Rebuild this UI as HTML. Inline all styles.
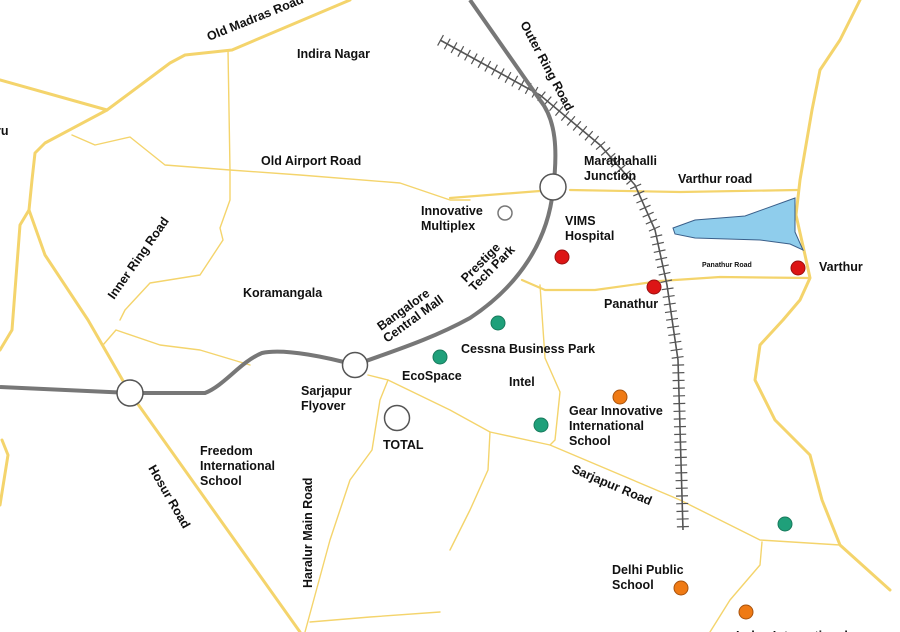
<!DOCTYPE html>
<html><head><meta charset="utf-8"><style>
html,body{margin:0;padding:0;background:#fff}
svg{display:block}
text{font-family:"Liberation Sans",Arial,sans-serif;font-weight:bold;font-size:12.5px;fill:#111}
</style></head><body>
<svg width="900" height="632" viewBox="0 0 900 632" xmlns="http://www.w3.org/2000/svg">
<g fill="none" stroke="#f4d46c" stroke-linejoin="round" stroke-linecap="round">
 <g stroke-width="3">
  <path d="M0,80 L107,110"/>
  <path d="M350,0 L232,50 L185,55 L170,63 L107,110 L45,143 L35,153 L32,180 L29,210"/>
  <path d="M29,210 L20,225 L12,330 L0,350"/>
  <path d="M2,440 L8,455 L0,505"/>
  <path d="M29,210 L45,255 L88,320 L130,393 L300,632"/>
  <path d="M860,0 L840,40 L820,70 L812,110 L800,180 L796,215 L805,255 L810,278 L800,300 L783,320 L760,345 L755,380 L775,420 L810,455 L822,500 L840,545 L890,590"/>
 </g>
 <g stroke-width="2.2">
  <path d="M522,280 L545,290 L595,290 L660,281 L720,277 L810,278"/>
  <path d="M450,198 L540,191 M570,190 L680,192 L797,190"/>
 </g>
 <g stroke-width="1.4">
  <path d="M228,50 L230,170 L230,200 L220,228 L223,240 L200,275 L150,283 L125,310 L120,320"/>
  <path d="M72,135 L95,145 L130,137 L165,165 L230,170 L300,175 L400,183 L450,200 L470,200"/>
  <path d="M116,330 L103,345 M116,330 L160,345 L200,350 L250,365"/>
  <path d="M368,375 L388,380 L450,410 L490,432 L550,445 L680,500 L760,540 L840,545"/>
  <path d="M388,380 L380,400 L372,450 L350,480 L330,540 L305,632"/>
  <path d="M310,622 L370,617 L440,612"/>
  <path d="M490,432 L488,470 L470,510 L450,550"/>
  <path d="M540,285 L545,358 L560,392 L555,440 L550,445"/>
  <path d="M762,542 L760,565 L730,600 L710,632"/>
 </g>
</g>
<path d="M673,228 L695,220 L745,216 L795,198 L795,232 L803,250 L790,244 L760,240 L695,238 L675,234 Z" fill="#8fcdec" stroke="#3a5f8a" stroke-width="1"/>
<path d="M440,40 L540,95 L600,145 L635,185 L655,230 L667,285 L678,360 L683,530" fill="none" stroke="#555" stroke-width="1.6"/>
<path d="M440,40 L540,95 L600,145 L635,185 L655,230 L667,285 L678,360 L683,530" fill="none" stroke="#555" stroke-width="12" stroke-dasharray="1.2 6.5"/>
<path d="M0,387 L130,393 L205,393 C225,385 240,362 262,353 C285,348 330,358 355,365 C390,352 430,340 470,318 C520,285 548,240 553,190 C558,150 556,120 540,100 L470,0" fill="none" stroke="#777" stroke-width="4" stroke-linejoin="round"/>
<g fill="#fff" stroke="#555" stroke-width="1.5">
 <circle cx="130" cy="393" r="13"/><circle cx="355" cy="365" r="12.5"/>
 <circle cx="553" cy="187" r="13"/><circle cx="397" cy="418" r="12.5"/>
 <circle cx="505" cy="213" r="7" stroke="#777"/>
</g>
<g stroke-width="1">
 <g fill="#dd1515" stroke="#991111"><circle cx="562" cy="257" r="7"/><circle cx="654" cy="287" r="7"/><circle cx="798" cy="268" r="7"/></g>
 <g fill="#1fa07a" stroke="#177a5c"><circle cx="498" cy="323" r="7"/><circle cx="440" cy="357" r="7"/><circle cx="541" cy="425" r="7"/><circle cx="785" cy="524" r="7"/></g>
 <g fill="#ef7a14" stroke="#a8520c"><circle cx="620" cy="397" r="7"/><circle cx="681" cy="588" r="7"/><circle cx="746" cy="612" r="7"/></g>
</g>
<text transform="translate(209,41) rotate(-22)">Old Madras Road</text>
<text x="297" y="58">Indira Nagar</text>
<text x="-4" y="135">ru</text>
<text x="261" y="165">Old Airport Road</text>
<text x="421" y="215">Innovative</text><text x="421" y="230">Multiplex</text>
<text transform="translate(114,300) rotate(-55)">Inner Ring Road</text>
<text x="243" y="297">Koramangala</text>
<text transform="translate(381,331) rotate(-36)">Bangalore</text>
<text transform="translate(387,343) rotate(-36)">Central Mall</text>
<text transform="translate(466,283) rotate(-45)">Prestige</text>
<text transform="translate(474,292) rotate(-45)">Tech Park</text>
<text transform="translate(520,24) rotate(62)">Outer Ring Road</text>
<text x="584" y="165">Marathahalli</text><text x="584" y="180">Junction</text>
<text x="678" y="183">Varthur road</text>
<text x="565" y="225">VIMS</text><text x="565" y="240">Hospital</text>
<text x="702" y="267" style="font-size:7px">Panathur Road</text>
<text x="819" y="271">Varthur</text>
<text x="604" y="308">Panathur</text>
<text x="461" y="353">Cessna Business Park</text>
<text x="402" y="380">EcoSpace</text>
<text x="509" y="386">Intel</text>
<text x="301" y="395">Sarjapur</text><text x="301" y="410">Flyover</text>
<text x="383" y="449">TOTAL</text>
<text x="569" y="415">Gear Innovative</text><text x="569" y="430">International</text><text x="569" y="445">School</text>
<text x="200" y="455">Freedom</text><text x="200" y="470">International</text><text x="200" y="485">School</text>
<text transform="translate(148,468) rotate(60)">Hosur Road</text>
<text transform="translate(312,588) rotate(-90)">Haralur Main Road</text>
<text transform="translate(571,472) rotate(23)">Sarjapur Road</text>
<text x="612" y="574">Delhi Public</text><text x="612" y="589">School</text>
<text x="736" y="640">Indus International</text>
</svg>
</body></html>
